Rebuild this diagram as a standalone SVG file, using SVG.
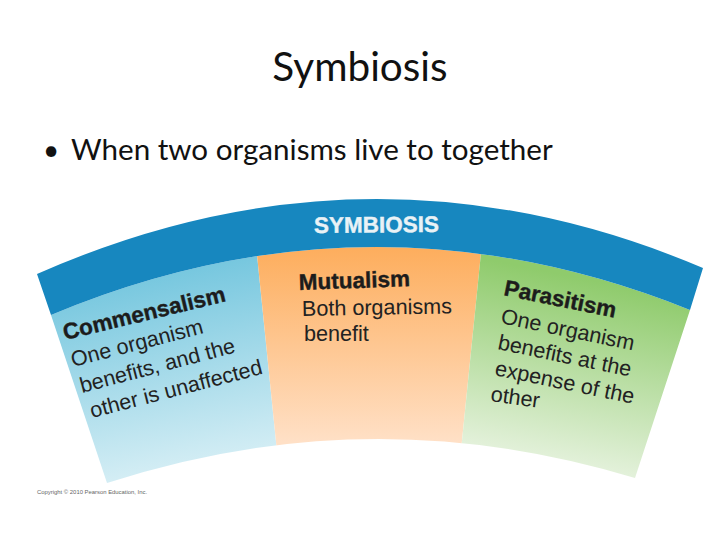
<svg xmlns="http://www.w3.org/2000/svg" width="720" height="540" viewBox="0 0 720 540">
<style>
.h{font-family:"Lato","Noto Sans",sans-serif;fill:#111}
.b{font-family:"Liberation Sans",Arial,sans-serif;font-weight:700;font-size:22.500px;fill:#1c1c1c;stroke:#1c1c1c;stroke-width:.4}
.r{font-family:"Liberation Sans",Arial,sans-serif;font-size:21.600px;fill:#222}
</style>
<defs>
<linearGradient id="gb" gradientUnits="userSpaceOnUse" x1="150" y1="270" x2="190" y2="480"><stop offset="0" stop-color="#74c6de"/><stop offset="1" stop-color="#daf0f6"/></linearGradient>
<linearGradient id="go" gradientUnits="userSpaceOnUse" x1="370" y1="250" x2="370" y2="442"><stop offset="0" stop-color="#fdae5e"/><stop offset="1" stop-color="#ffe0c6"/></linearGradient>
<linearGradient id="gg" gradientUnits="userSpaceOnUse" x1="590" y1="280" x2="550" y2="480"><stop offset="0" stop-color="#8fcb6c"/><stop offset="1" stop-color="#ecf5e6"/></linearGradient>
<clipPath id="fan"><path d="M51 315Q370 181.500 690 310L635 478Q370 397.500 107 483Z"/></clipPath>
</defs>
<rect width="720" height="540" fill="#fff"/>
<g id="title"><text class="h" x="360" y="81" font-size="40.500" text-anchor="middle">Symbiosis</text></g>
<g id="bullet"><text class="h" x="43" y="160" font-size="28">•</text><text class="h" x="71" y="160" font-size="29.600">When two organisms live to together</text></g>
<g id="commensalism">
<polygon clip-path="url(#fan)" points="30,230 254.500,230 281.900,500 30,500" fill="url(#gb)"/>
<text class="b" transform="translate(65 340) rotate(-13.500)">Commensalism</text>
<text class="r" transform="translate(73 367) rotate(-14.500)">One organism</text>
<text class="r" transform="translate(82 393) rotate(-14.800)">benefits, and the</text>
<text class="r" transform="translate(92 418) rotate(-14.500)">other is unaffected</text>
</g>
<g id="mutualism">
<polygon clip-path="url(#fan)" points="254.500,230 483.300,230 456,500 281.900,500" fill="url(#go)"/>
<text class="b" transform="translate(299 290) rotate(-2)">Mutualism</text>
<text class="r" transform="translate(302 316) rotate(-1)">Both organisms</text>
<text class="r" transform="translate(304 341)">benefit</text>
</g>
<g id="parasitism">
<polygon clip-path="url(#fan)" points="483.300,230 720,230 720,500 456,500" fill="url(#gg)"/>
<text class="b" transform="translate(503 295) rotate(11.500)">Parasitism</text>
<text class="r" transform="translate(500 323) rotate(11.700)">One organism</text>
<text class="r" transform="translate(497 349) rotate(11.700)">benefits at the</text>
<text class="r" transform="translate(494 375) rotate(11.700)">expense of the</text>
<text class="r" transform="translate(490 401) rotate(8)">other</text>
</g>
<g id="symbiosis">
<path d="M37 274Q370 127 703 268L690 310Q370 181.500 51 315Z" fill="#1787bf"/>
<text transform="translate(314 233) rotate(-.5)" font-family="Liberation Sans,Arial,sans-serif" font-weight="700" font-size="22.500" fill="#e9f2f6" stroke="#e9f2f6" stroke-width=".4">SYMBIOSIS</text>
</g>
<g id="copyright"><text x="37" y="494" font-family="Liberation Sans,Arial,sans-serif" font-size="5.900" fill="#666">Copyright © 2010 Pearson Education, Inc.</text></g>
</svg>
